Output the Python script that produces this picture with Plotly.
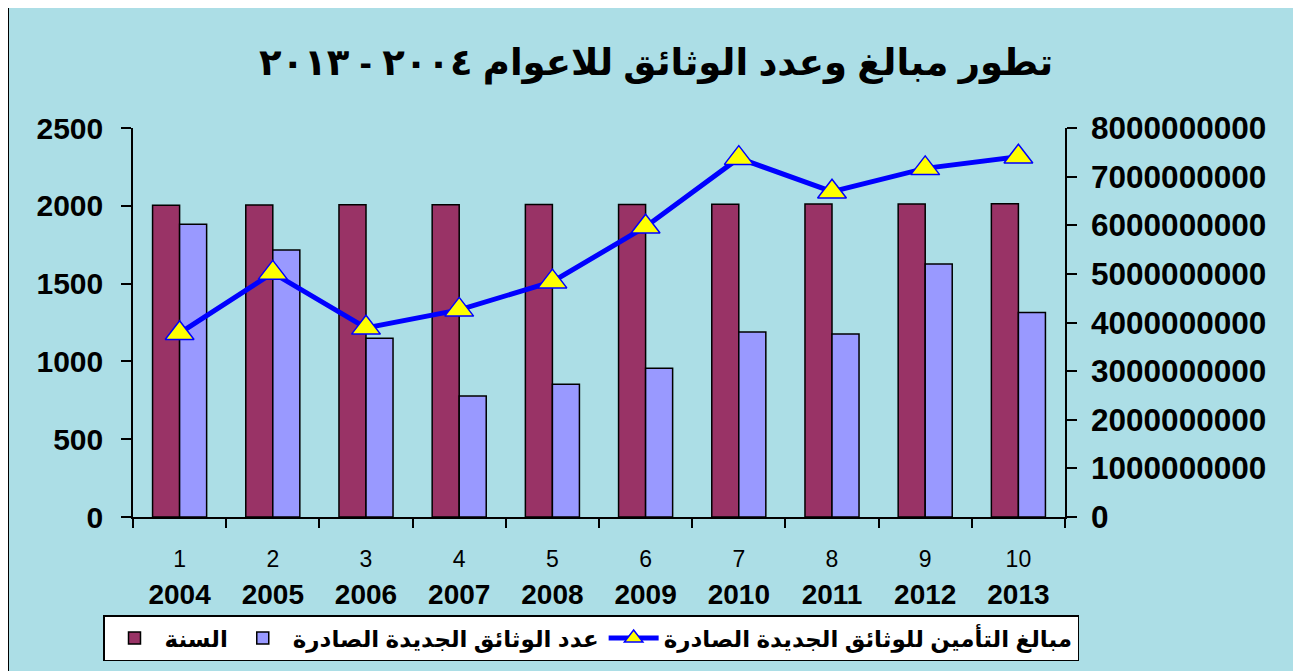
import plotly.graph_objects as go

years = [2004, 2005, 2006, 2007, 2008, 2009, 2010, 2011, 2012, 2013]
index_labels = ["1", "2", "3", "4", "5", "6", "7", "8", "9", "10"]
docs_count = [1882, 1716, 1148, 778, 853, 956, 1189, 1176, 1626, 1315]
amounts = [3.78e9, 5.02e9, 3.89e9, 4.26e9, 4.84e9, 5.97e9, 7.38e9, 6.69e9, 7.17e9, 7.41e9]

name_year = "السنة"
name_docs = "عدد الوثائق الجديدة الصادرة"
name_amount = "مبالغ التأمين للوثائق الجديدة الصادرة"
title_text = "تطور مبالغ وعدد الوثائق للاعوام ٢٠٠٤ - ٢٠١٣"

FONT = "Liberation Sans, Arial, DejaVu Sans, sans-serif"

x = index_labels
ticktext = [f"<span style='font-size:23px'>{i}</span><br><b>{y}</b>" for i, y in zip(index_labels, years)]

fig = go.Figure()
fig.add_trace(go.Bar(x=x, y=years, name=f"<b>{name_year}</b>",
                     marker=dict(color="#993366", line=dict(color="black", width=1.5))))
fig.add_trace(go.Bar(x=x, y=docs_count, name=f"<b>{name_docs}</b>",
                     marker=dict(color="#9999FF", line=dict(color="black", width=1.5))))
fig.add_trace(go.Scatter(x=x, y=amounts, name=f"<b>{name_amount}</b>", yaxis="y2",
                         mode="lines+markers",
                         line=dict(color="#0000FF", width=5),
                         marker=dict(symbol="triangle-up", size=25, color="#FFFF00",
                                     line=dict(color="#0000FF", width=1.5))))

OFF = 8  # page body margin
L, R, T, B = 133 - OFF, 1065 - OFF, 128 - OFF, 517 - OFF
W, H = 1301, 671
pw, ph = R - L, B - T

def px2x(p):
    return (p - OFF - L) / pw

def py2y(p):
    return (B - (p - OFF)) / ph

fig.add_shape(type="rect", xref="paper", yref="paper",
              x0=px2x(8), x1=px2x(1295), y0=py2y(690), y1=py2y(5),
              fillcolor="#acdee6", line=dict(color="black", width=2), layer="below")

fig.update_layout(
    width=W, height=H,
    margin=dict(l=L, r=W - R, t=T, b=H - B),
    paper_bgcolor="white",
    plot_bgcolor="#c0c0c0",
    barmode="group", bargap=0.42, bargroupgap=0,
    font=dict(family=FONT, color="black"),
    title=dict(text=f"<b>{title_text}</b>", x=(656 - OFF) / W, xanchor="center",
               y=1 - (62 - OFF) / H, yanchor="middle", xref="container", yref="container",
               font=dict(size=37, family=FONT, color="black")),
    xaxis=dict(type="category", tickmode="array", tickvals=x, ticktext=ticktext,
               range=[-0.5, 9.5], autorange=False,
               tickson="boundaries", ticks="outside", ticklen=9, tickwidth=1.5, tickcolor="black",
               ticklabelstandoff=15,
               showline=True, linecolor="black", linewidth=1.5, showgrid=False, zeroline=False,
               tickfont=dict(size=28, family=FONT, color="black")),
    yaxis=dict(range=[0, 2500], dtick=500, tick0=0, ticks="outside", ticklen=10, tickwidth=1.5,
               tickcolor="black", showline=True, linecolor="black", linewidth=1.5,
               showgrid=False, zeroline=False, tickformat="d", ticklabelstandoff=12,
               tickfont=dict(size=30, family=FONT, color="black", weight="bold")),
    yaxis2=dict(range=[0, 8e9], dtick=1e9, tick0=0, overlaying="y", side="right",
                ticks="outside", ticklen=10, tickwidth=1.5, tickcolor="black",
                showline=True, linecolor="black", linewidth=1.5, showgrid=False,
                zeroline=False, tickformat="d", exponentformat="none", ticklabelstandoff=8,
                tickfont=dict(size=31.5, family=FONT, color="black", weight="bold")),
    legend=dict(orientation="h", x=px2x(103), xanchor="left", y=py2y(615), yanchor="top",
                bgcolor="white", bordercolor="black", borderwidth=1.5, itemwidth=50,
                font=dict(size=23, family=FONT, color="black"), traceorder="normal"),
    showlegend=True,
)

fig.write_html("out.html")
